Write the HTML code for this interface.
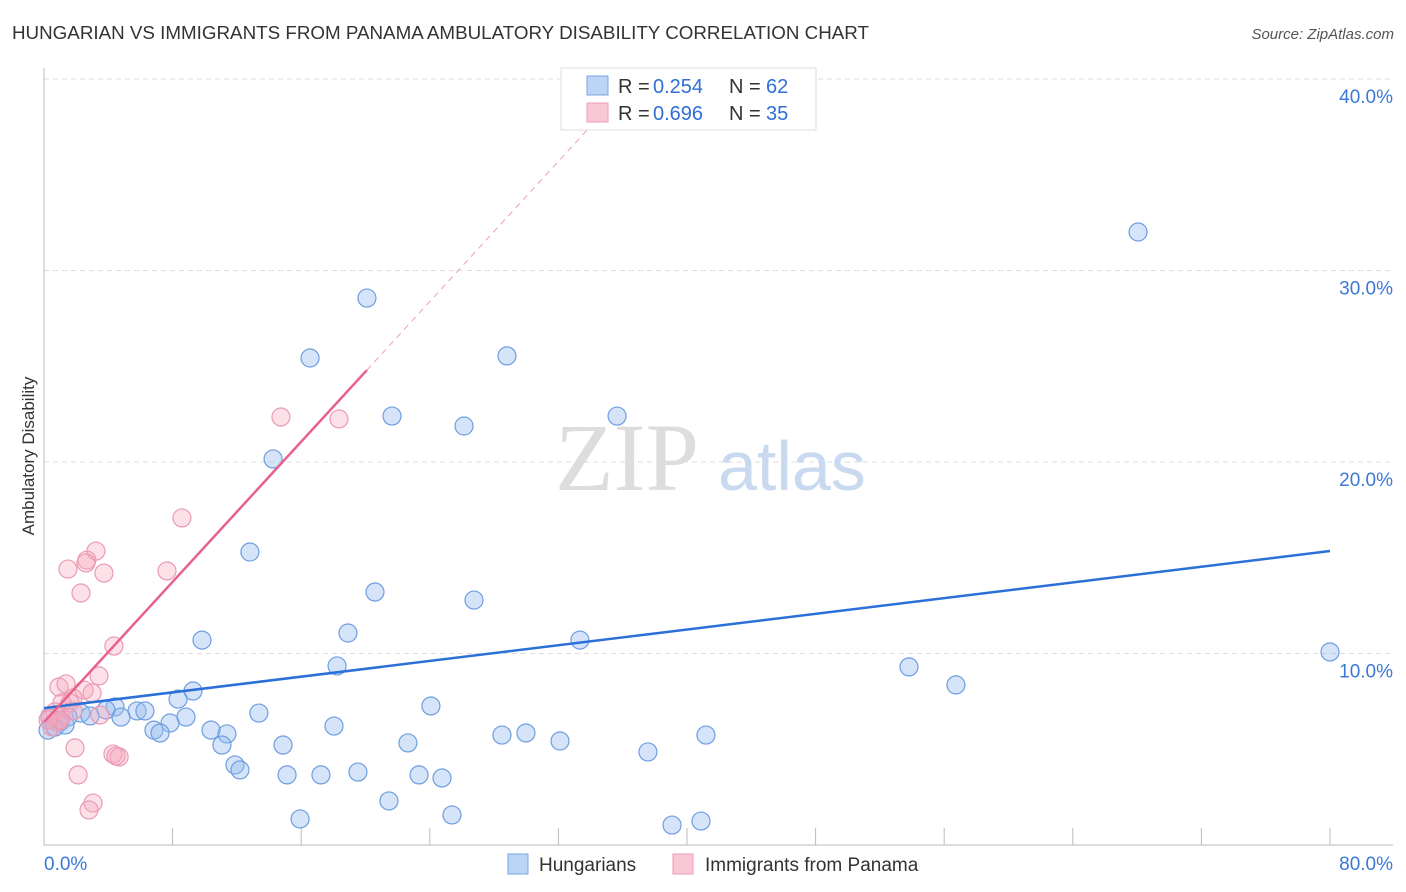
<!DOCTYPE html>
<html><head><meta charset="utf-8"><style>
body{margin:0;background:#fff;font-family:"Liberation Sans",sans-serif}
svg{display:block}
</style></head><body>
<svg id="c" width="1406" height="892">
<text x="12" y="39" font-size="18" fill="#333" textLength="857" lengthAdjust="spacingAndGlyphs">HUNGARIAN VS IMMIGRANTS FROM PANAMA AMBULATORY DISABILITY CORRELATION CHART</text>
<text x="1394" y="39" font-size="15" fill="#555" text-anchor="end" font-style="italic">Source: ZipAtlas.com</text>
<text x="34" y="456" font-size="17" fill="#333" text-anchor="middle" transform="rotate(-90 34 456)">Ambulatory Disability</text>
<g id="grid"></g>
<g><text x="555" y="490" font-size="96" fill="#ddd" font-family="Liberation Serif,serif">ZIP</text><text x="718" y="490" font-size="70" fill="#c8d9f0">atlas</text></g>
<g id="marks"></g>
<g>
<rect x="561" y="68" width="255" height="62" fill="#fff" stroke="#ddd"/>
<rect x="587" y="76" width="21" height="19" fill="#bcd4f5" stroke="#7aa6e3"/>
<rect x="587" y="103" width="21" height="19" fill="#f9c8d6" stroke="#ee9db5"/>
<text x="618" y="93" font-size="20" fill="#333">R =</text>
<text x="653" y="93" font-size="20" fill="#2f6fd6">0.254</text>
<text x="729" y="93" font-size="20" fill="#333">N =</text>
<text x="766" y="93" font-size="20" fill="#2f6fd6">62</text>
<text x="618" y="120" font-size="20" fill="#333">R =</text>
<text x="653" y="120" font-size="20" fill="#2f6fd6">0.696</text>
<text x="729" y="120" font-size="20" fill="#333">N =</text>
<text x="766" y="120" font-size="20" fill="#2f6fd6">35</text>
</g>
<g>
<rect x="508" y="854" width="20" height="20" fill="#bcd4f5" stroke="#7aa6e3"/>
<text x="539" y="871" font-size="19" fill="#333">Hungarians</text>
<rect x="673" y="854" width="20" height="20" fill="#f9c8d6" stroke="#ee9db5"/>
<text x="705" y="871" font-size="19" fill="#333">Immigrants from Panama</text>
</g>
</svg>
<script>
const yTicks=[10,20,30,40];
const yTickLabels=["10.0%","20.0%","30.0%","40.0%"];
const xEndLabels=["0.0%","80.0%"];
const blueX=[68.06,20.09,16.55,28.8,21.65,35.65,26.13,14.25,12.81,20.59,26.75,18.91,9.83,33.34,18.23,53.81,56.73,80,9.27,8.34,4.42,3.86,5.79,6.28,8.83,13.37,24.07,2.3,2.86,4.79,1.49,1.0,0.37,0.25,0.68,7.84,6.84,7.22,10.39,11.38,18.04,11.07,14.87,22.64,28.49,29.98,32.1,37.57,41.18,11.88,12.19,15.12,17.23,19.53,23.33,24.76,21.46,15.93,25.38,39.07,40.87,1.31];
const blueY=[32.01,28.56,25.43,25.54,22.4,22.4,21.88,20.16,15.3,13.21,12.79,11.07,10.7,10.7,9.35,9.3,8.36,10.08,8.04,7.62,7.21,7.05,7.0,7.0,6.68,6.89,7.26,6.89,6.74,6.68,6.68,6.42,6.63,6.0,6.16,6.37,6.0,5.85,6.0,5.8,6.21,5.22,5.22,5.33,5.74,5.85,5.43,4.86,5.74,4.18,3.92,3.66,3.66,3.81,3.66,3.5,2.3,1.36,1.57,1.04,1.25,6.27];
const pinkX=[14.74,18.35,8.58,3.23,2.67,2.61,1.49,3.73,7.65,2.3,4.35,3.42,0.93,1.37,2.49,2.99,1.8,1.12,1.62,0.68,0.37,1.06,3.48,1.8,0.81,0.5,1.0,1.93,4.29,4.67,4.48,2.12,3.05,2.8,0.25];
const pinkY=[22.35,22.25,17.08,15.35,14.88,14.73,14.41,14.2,14.31,13.16,10.39,8.83,8.25,8.41,8.09,7.94,7.68,7.42,7.42,6.95,6.74,6.68,6.79,7.0,6.42,6.16,6.53,5.07,4.75,4.6,4.65,3.66,2.19,1.83,6.53];
const blueTrend=[7.15,15.35]; // y at x=0 and x=80
const pinkTrend=[6.42,0.915]; // intercept, slope
const xs=v=>44+v*1286/80, ys=v=>845-v*19.15;
const NS="http://www.w3.org/2000/svg";
function mk(t,a,p){const e=document.createElementNS(NS,t);for(const k in a)e.setAttribute(k,a[k]);p.appendChild(e);return e;}
const g=document.getElementById('grid'), m=document.getElementById('marks');
yTicks.forEach((v,i)=>{
 const l=mk('line',{x1:44,x2:1393,y1:ys(v),y2:ys(v),stroke:'#ddd','stroke-dasharray':'5,4'},g);
 
 
 const t=mk('text',{x:1393,y:ys(v)+24,'font-size':19,fill:'#3b78d8','text-anchor':'end'},g);
 t.textContent=yTickLabels[i];
 
 
});
mk('line',{x1:44,x2:44,y1:68,y2:845,stroke:'#bbb'},g);
mk('line',{x1:44,x2:1393,y1:845,y2:845,stroke:'#bbb'},g);
for(let k=1;k<=10;k++){const t=mk('line',{x1:xs(k*8),x2:xs(k*8),y1:828,y2:845,stroke:'#bbb'},g);
 
 }
[[0,'start',44],[80,'end',1393]].forEach((d,i)=>{const t=mk('text',{x:d[2],y:870,'font-size':19,fill:'#3b78d8','text-anchor':d[1]},g);t.textContent=xEndLabels[i];
 
 });
blueX.forEach((x,i)=>{const c=mk('circle',{cx:xs(x),cy:ys(blueY[i]),r:9,fill:'rgba(150,188,238,0.4)',stroke:'#6e9ee0','stroke-width':1.2},m);
 
 });
pinkX.forEach((x,i)=>{const c=mk('circle',{cx:xs(x),cy:ys(pinkY[i]),r:9,fill:'rgba(246,168,192,0.35)',stroke:'#eb9ab3','stroke-width':1.2},m);
 
 });
const bl=mk('line',{x1:xs(0),y1:ys(blueTrend[0]),x2:xs(80),y2:ys(blueTrend[1]),stroke:'#2b70d9','stroke-width':2.5},m);


const pEnd=20.09, pTop=(40.5-pinkTrend[0])/pinkTrend[1];
const pl=mk('line',{x1:xs(0),y1:ys(pinkTrend[0]),x2:xs(pEnd),y2:ys(pinkTrend[0]+pinkTrend[1]*pEnd),stroke:'#e8608c','stroke-width':2.5},m);


const pd=mk('line',{x1:xs(pEnd),y1:ys(pinkTrend[0]+pinkTrend[1]*pEnd),x2:xs(pTop),y2:ys(40.5),stroke:'#eba0b8','stroke-width':1,'stroke-dasharray':'6,5'},m);


</script>
</body></html>
